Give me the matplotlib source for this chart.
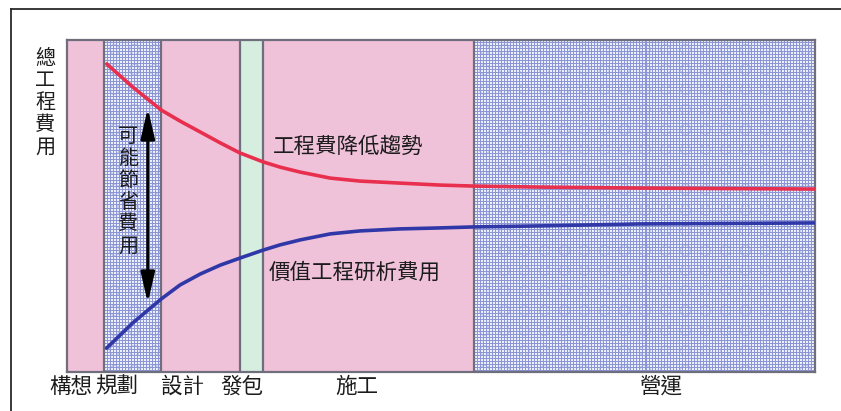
import numpy as np
import matplotlib
matplotlib.use("Agg")
import matplotlib.pyplot as plt
from matplotlib.lines import Line2D

plt.rcParams['font.family'] = ['Noto Sans CJK TC', 'DejaVu Sans']

# ---- data -------------------------------------------------------------
phase_names = ['構想', '規劃', '設計', '發包', '施工', '營運']
phase_edges = [0.0, 4.9, 12.6, 23.1, 26.2, 54.4, 100.0]
phase_fill = ['pink', 'dots', 'pink', 'green', 'pink', 'dots']
phase_label_x = [0.5, 6.7, 15.5, 23.4, 38.8, 79.3]

timeline = [5.3, 8.8, 12.6, 15.1, 17.8, 20.5, 23.1, 26.2, 28.5, 31.2,
            35.2, 39.2, 44.5, 49.9, 54.4, 63.2, 76.6, 100.0]
construction_cost = [92.8, 85.8, 78.9, 75.6, 72.3, 69.0, 66.0, 63.3, 61.7, 60.2,
                     58.4, 57.5, 56.9, 56.3, 56.0, 55.7, 55.4, 55.1]
ve_study_cost = [7.2, 14.8, 22.0, 26.2, 29.5, 32.2, 34.3, 36.7, 38.3, 39.8,
                 41.6, 42.5, 43.1, 43.4, 43.7, 44.0, 44.6, 44.9]

saving_x = 10.8
saving_top = 79.5
saving_bottom = 20.8

# ---- figure -------------------------------------------------------------
W, H = 841, 411
fig = plt.figure(figsize=(W / 100, H / 100), dpi=100)
fig.patch.set_facecolor('white')

ax_l, ax_r, ax_t, ax_b = 67, 815, 40, 372
ax = fig.add_axes([ax_l / W, 1 - ax_b / H, (ax_r - ax_l) / W, (ax_b - ax_t) / H])

PINK = '#f0c2da'
GREEN = '#d6eedf'
EDGE = '#6e6e7c'


def dot_texture(h, w):
    """Fine blue grid with white cells, like a dotted screen tone."""
    yy, xx = np.mgrid[0:h, 0:w]
    line = (yy % 3 == 0) | (xx % 3 == 0)
    tex = np.empty((h, w, 3))
    tex[:] = np.array([236, 239, 252]) / 255
    tex[line] = np.array([140, 150, 212]) / 255
    # faint ring motif
    cy, cx = (yy % 20) - 10, (xx % 20) - 10
    r = np.sqrt(cx ** 2 + cy ** 2)
    ring = (np.abs(r - 5) < 0.8) & ~line
    tex[ring] = np.array([196, 202, 238]) / 255
    return tex


px_per_x = (ax_r - ax_l) / 100.0
for x0, x1, kind in zip(phase_edges[:-1], phase_edges[1:], phase_fill):
    if kind == 'dots':
        w = max(int(round((x1 - x0) * px_per_x)), 1)
        ax.imshow(dot_texture(ax_b - ax_t, w), extent=[x0, x1, 0, 100],
                  aspect='auto', interpolation='nearest', zorder=0)
    else:
        ax.axvspan(x0, x1, color=PINK if kind == 'pink' else GREEN, lw=0, zorder=0)

for xb in phase_edges[1:-1]:
    ax.axvline(xb, color=EDGE, lw=1.6, zorder=1)

ax.plot(timeline, construction_cost, color='#e8304e', lw=2.6,
        solid_capstyle='round', zorder=3)
ax.plot(timeline, ve_study_cost, color='#3038a8', lw=2.6,
        solid_capstyle='round', zorder=3)

ax.annotate('', xy=(saving_x, saving_top), xytext=(saving_x, saving_bottom),
            arrowprops=dict(arrowstyle='<|-|>,head_length=1.3,head_width=0.3',
                            mutation_scale=14, color='black', lw=2.2,
                            shrinkA=0, shrinkB=0),
            zorder=4)

ax.set_xlim(0, 100)
ax.set_ylim(0, 100)
ax.set_xticks([])
ax.set_yticks([])
for sp in ax.spines.values():
    sp.set_color(EDGE)
    sp.set_linewidth(1.6)

TXT = '#1c1c1c'

# vertical annotation between the curves
saving_text = '可能節省費用'
y_start = 100 * (ax_b - 136) / (ax_b - ax_t)
step = 100 * 22 / (ax_b - ax_t)
for i, ch in enumerate(saving_text):
    ax.text(8.2, y_start - i * step, ch, fontsize=14.5, color=TXT,
            ha='center', va='center', zorder=5)

ax.text(37.6, 67.8, '工程費降低趨勢', fontsize=15.5, color=TXT,
        ha='center', va='center', zorder=5)
ax.text(38.4, 29.8, '價值工程研析費用', fontsize=15.5, color=TXT,
        ha='center', va='center', zorder=5)

# phase names under the axis
lab_y = (ax_b - 387) / (ax_b - ax_t)
for name, lx in zip(phase_names, phase_label_x):
    ax.text(lx, lab_y, name, fontsize=15.5, color=TXT, ha='center', va='center',
            transform=ax.get_xaxis_transform(), clip_on=False)

# y-axis caption written top to bottom
for i, ch in enumerate('總工程費用'):
    fig.text(45 / W, 1 - (59 + i * 22) / H, ch, fontsize=14.5, color=TXT,
             ha='center', va='center')

# outer frame: top and left rules
fig.add_artist(Line2D([11 / W, 1.0], [1 - 9 / H, 1 - 9 / H], color='#2a2a2a', lw=1.3))
fig.add_artist(Line2D([11 / W, 11 / W], [1 - 9 / H, 0.0], color='#2a2a2a', lw=1.3))

fig.savefig('out.png', dpi=100)
